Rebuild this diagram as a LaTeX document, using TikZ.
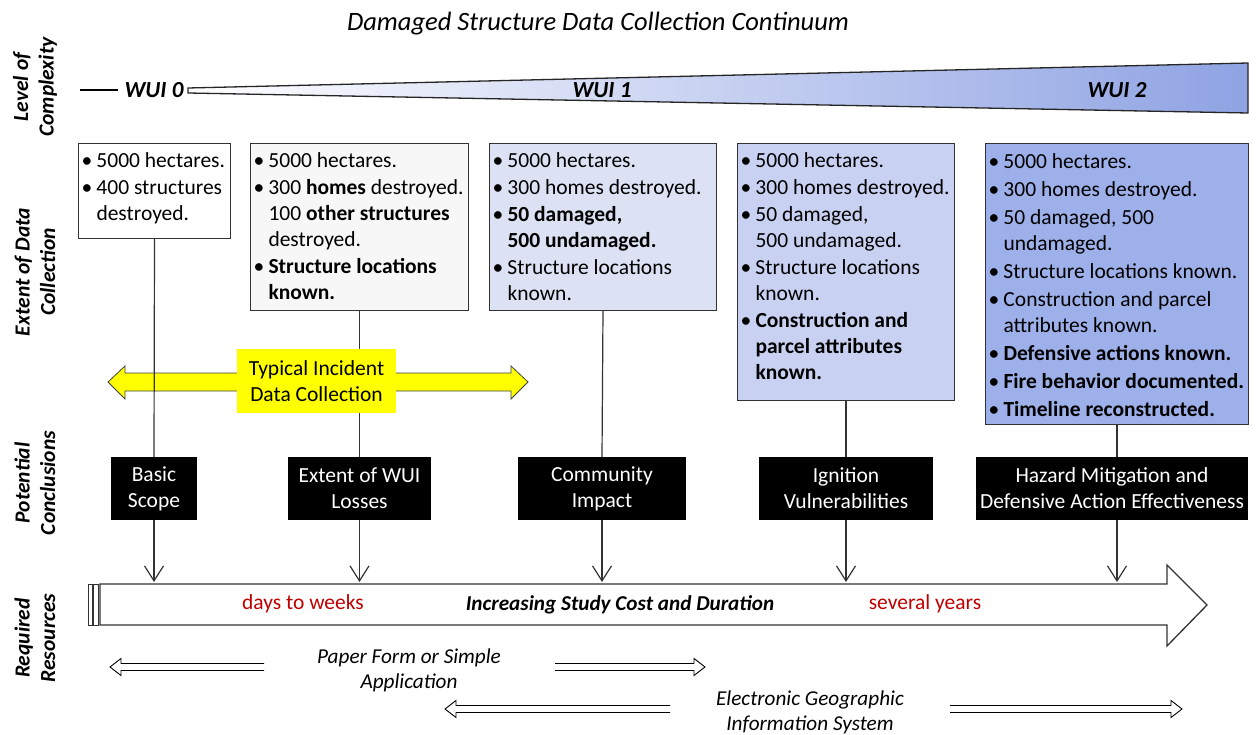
\documentclass[tikz,border=0pt]{standalone}
\usepackage{fontspec}
\setmainfont{Carlito}
\usetikzlibrary{arrows.meta,calc}
\definecolor{boxtwo}{HTML}{F7F7F7}
\definecolor{boxthree}{HTML}{DCE2F4}
\definecolor{boxfour}{HTML}{C8D1F1}
\definecolor{boxfive}{HTML}{9DB0EA}
\definecolor{wedgeblue}{HTML}{8FA3E3}
\definecolor{darkred}{HTML}{C00000}
\definecolor{yel}{HTML}{FFFF00}
\newcommand{\itm}[1]{\par\hangindent=14pt\hangafter=1\noindent\makebox[14pt][l]{\hspace*{-1pt}•}\strut#1}
\newcommand{\dbx}[3]{\parbox[c][#2][t]{#1}{\parskip=1pt\parindent=0pt\vspace*{5pt}#3}}
% hollow double arrow: #1 tail, #2 tip, #3 direction (1 = tip to the left, -1 = tip to the right)
\newcommand{\hollowarr}[3]{%
  \draw[hollow] ($(#1)+(0,-3.5)$) -- ($(#2)+(#3*11,-3.5)$) -- ($(#2)+(#3*11,-8.5)$) -- (#2)
    -- ($(#2)+(#3*11,8.5)$) -- ($(#2)+(#3*11,3.5)$) -- ($(#1)+(0,3.5)$);}
\begin{document}
\begin{tikzpicture}[x=1pt,y=-1pt,
  dbox/.style={draw=black!80, line width=1pt, anchor=north west, inner xsep=4pt, inner ysep=0pt,
    font=\fontsize{21.5}{26}\selectfont, align=left},
  cbox/.style={fill=black, text=white, align=center, inner sep=0pt, minimum height=63pt,
    font=\fontsize{21.5}{26}\selectfont},
  conn/.style={draw=black!80, line width=1.2pt},
  downarr/.style={conn, -{Straight Barb[length=15pt,width=19pt,line width=1.2pt]}},
  sidelab/.style={rotate=90, align=center, font=\fontsize{21.5}{25.5}\selectfont\bfseries\itshape},
  wuilab/.style={font=\fontsize{23}{26}\selectfont\bfseries\itshape},
  redlab/.style={text=darkred, font=\fontsize{21.5}{26}\selectfont},
  ital/.style={align=center, font=\fontsize{21.2}{25.5}\selectfont\itshape},
  hollow/.style={draw=black, line width=0.9pt, line join=miter},
]
\useasboundingbox (0,0) rectangle (1256,735);

% title
\node[font=\fontsize{26.5}{30}\selectfont\itshape] (title) at (598,24) {Damaged Structure Data Collection Continuum};

% side labels
\node[sidelab] (s1) at (35,87) {Level of\\Complexity};
\node[sidelab] (s2) at (35,272) {Extent of Data\\Collection};
\node[sidelab] (s3) at (35,483) {Potential\\Conclusions};
\node[sidelab] (s4) at (35,638) {Required\\Resources};

% wedge
\shade[left color=white, right color=wedgeblue, draw=black!85, line width=1.3pt]
  (188,88) -- (1248,63) -- (1248,113) -- (188,93) -- cycle;
\coordinate (w0a) at (80,90);
\coordinate (w0b) at (118,90);
\draw[line width=1.3pt] (w0a) -- (w0b);
\node[wuilab] (wui0) at (154,90) {WUI 0};
\node[wuilab] (wui1) at (602,90) {WUI 1};
\node[wuilab] (wui2) at (1117,90) {WUI 2};

% data boxes
\node[dbox, fill=white] (b1) at (78,143) {\dbx{144pt}{95pt}{%
\itm{5000 hectares.}
\itm{400 structures\\destroyed.}}};
\node[dbox, fill=boxtwo] (b2) at (250,143) {\dbx{210pt}{167pt}{%
\itm{5000 hectares.}
\itm{300 \textbf{homes} destroyed.\\100 \textbf{other structures}\\destroyed.}
\itm{\textbf{Structure locations}\\\textbf{known.}}}};
\node[dbox, fill=boxthree] (b3) at (489,143) {\dbx{219pt}{167pt}{%
\itm{5000 hectares.}
\itm{300 homes destroyed.}
\itm{\textbf{50 damaged,}\\\textbf{500 undamaged.}}
\itm{Structure locations\\known.}}};
\node[dbox, fill=boxfour] (b4) at (737,143) {\dbx{209pt}{257pt}{%
\itm{5000 hectares.}
\itm{300 homes destroyed.}
\itm{50 damaged,\\500 undamaged.}
\itm{Structure locations\\known.}
\itm{\textbf{Construction and}\\\textbf{parcel attributes}\\\textbf{known.}}}};
\node[dbox, fill=boxfive] (b5) at (985,143) {\dbx{255pt}{281pt}{\parskip=2pt
\itm{5000 hectares.}
\itm{300 homes destroyed.}
\itm{50 damaged, 500\\undamaged.}
\itm{Structure locations known.}
\itm{Construction and parcel\\attributes known.}
\itm{\textbf{Defensive actions known.}}
\itm{\textbf{Fire behavior documented.}}
\itm{\textbf{Timeline reconstructed.}}}};

% conclusion boxes
\node[cbox, minimum width=86pt] (c1) at (154,488.5) {Basic\\Scope};
\node[cbox, minimum width=143pt] (c2) at (359.5,488.5) {Extent of WUI\\Losses};
\node[cbox, minimum width=168pt] (c3) at (602,488.5) {Community\\Impact};
\node[cbox, minimum width=174pt] (c4) at (846,488.5) {Ignition\\Vulnerabilities};
\node[cbox, minimum width=272pt] (c5) at (1112,488.5) {Hazard Mitigation and\\Defensive Action Effectiveness};

% yellow double arrow
\fill[yel, draw=black!75, line width=0.8pt]
  (108,382) -- (125,366) -- (125,373) -- (511,373) -- (511,366) -- (528,382)
  -- (511,399) -- (511,391) -- (125,391) -- (125,399) -- cycle;

% connectors box -> conclusion
\draw[conn] (b1.south) -- (c1.north);
\draw[conn] (b2.south) -- (c2.north);
\draw[conn] (b3.south) -- (c3.north);
\draw[conn] (b4.south) -- (c4.north);
\draw[conn] (b5.south) -- (b5.south |- c5.north);

% typical incident label
\node[fill=yel, minimum width=159pt, minimum height=64pt, inner sep=0pt, align=center,
  font=\fontsize{21.5}{26}\selectfont] (typ) at (316.5,381) {Typical Incident\\Data Collection};

% big arrow
\draw[fill=white, line width=1.3pt, draw=black!80]
  (100,584) -- (1167,584) -- (1167,565) -- (1207,605) -- (1167,646) -- (1167,625) -- (100,625) -- cycle;
\draw[fill=white, line width=1pt, draw=black!80] (88,584) rectangle (92,625);
\draw[fill=white, line width=1pt, draw=black!80] (93.5,584) rectangle (98,625);
\coordinate (ae) at (0,582);
\node[redlab] (dw) at (303,604) {days to weeks};
\node[font=\fontsize{21.2}{25}\selectfont\bfseries\itshape] (isc) at (620,605) {Increasing Study Cost and Duration};
\node[redlab] (sy) at (925,604) {several years};

% arrows conclusion -> big arrow
\draw[downarr] (c1.south) -- (c1.south |- ae);
\draw[downarr] (c2.south) -- (c2.south |- ae);
\draw[downarr] (c3.south) -- (c3.south |- ae);
\draw[downarr] (c4.south) -- (c4.south |- ae);
\draw[downarr] (b5.south |- c5.south) -- (b5.south |- ae);

% required resources
\node[ital] (paper) at (409,670.5) {Paper Form or Simple\\Application};
\node[ital] (egis) at (810,712.5) {Electronic Geographic\\Information System};
\coordinate (p1a) at (264,667); \coordinate (p1b) at (110,667);
\coordinate (p2a) at (555,667); \coordinate (p2b) at (705,667);
\coordinate (e1a) at (670,709); \coordinate (e1b) at (445,709);
\coordinate (e2a) at (950,709); \coordinate (e2b) at (1182,709);
\hollowarr{p1a}{p1b}{1}
\hollowarr{p2a}{p2b}{-1}
\hollowarr{e1a}{e1b}{1}
\hollowarr{e2a}{e2b}{-1}
\end{tikzpicture}
\end{document}
